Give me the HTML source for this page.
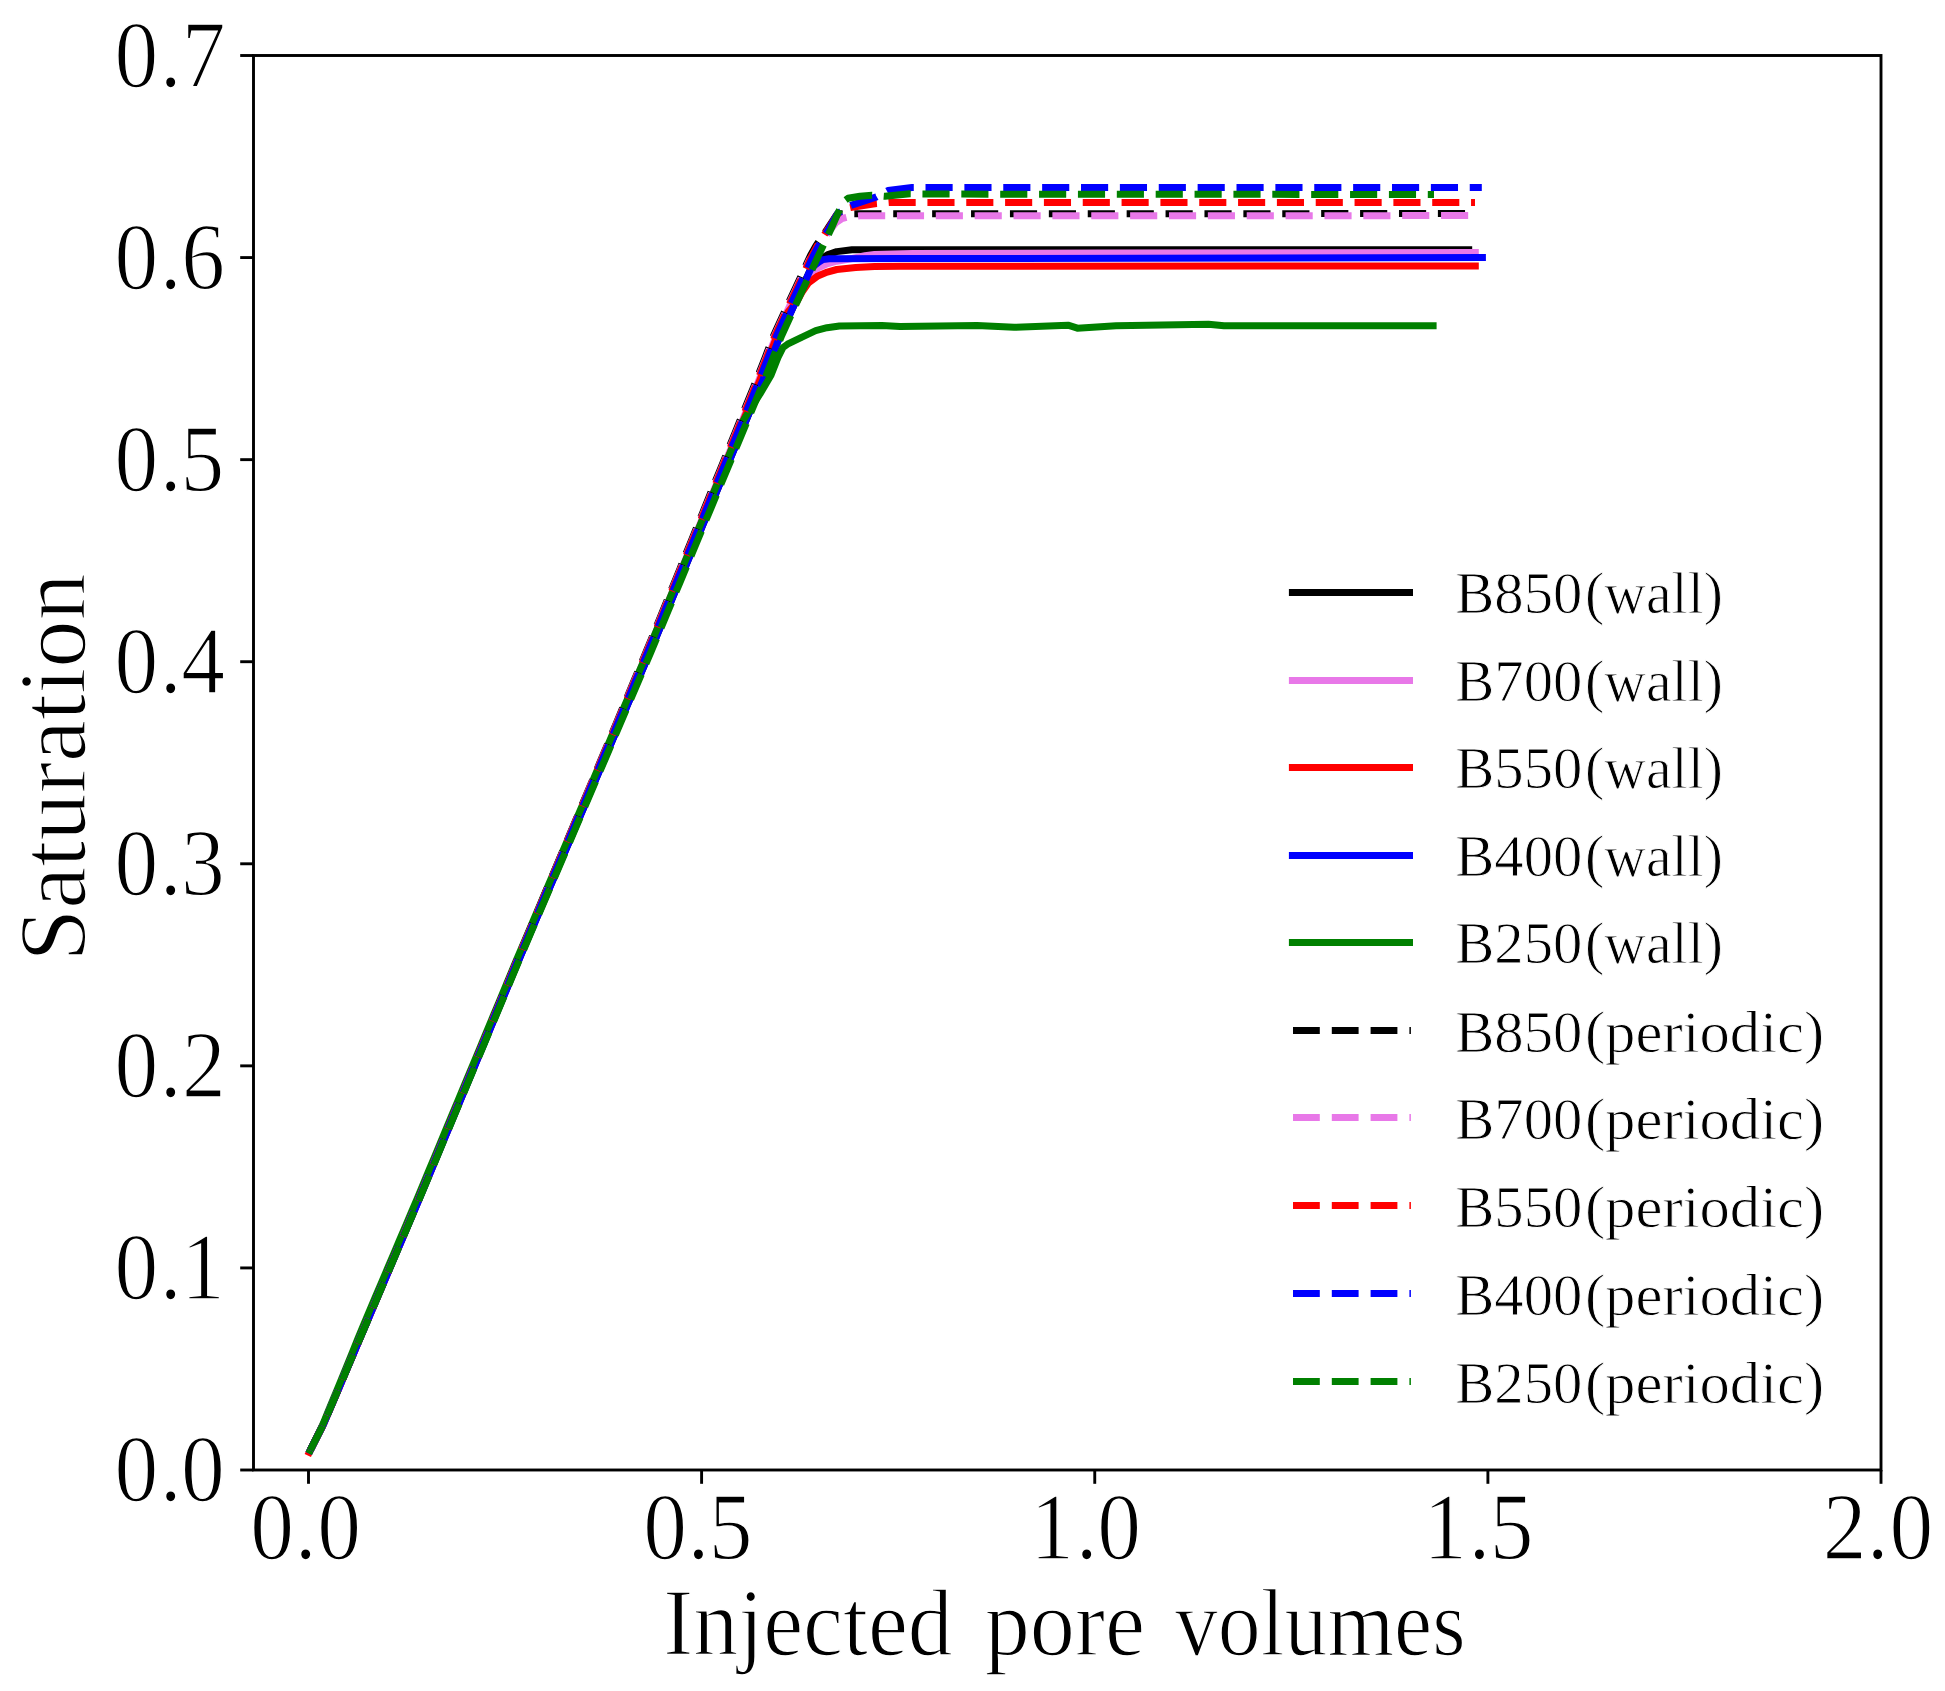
<!DOCTYPE html>
<html lang="en"><head><meta charset="utf-8"><title>Saturation vs injected pore volumes</title>
<style>html,body{margin:0;padding:0;background:#fff;}body{width:1945px;height:1691px;overflow:hidden;}svg{display:block;}</style>
</head><body>
<svg width="1945" height="1691" viewBox="0 0 1945 1691">
<rect width="1945" height="1691" fill="#fff"/>
<g fill="none" stroke-width="7.0" stroke-linejoin="round">
<path d="M310.3,1450.2 L317.4,1436.2 L323.4,1424.3 L330.3,1408.2 L336.3,1394.2 L338.1,1390.0 L342.3,1380.2 L348.2,1366.2 L354.2,1352.2 L360.1,1338.2 L366.1,1324.2 L372.0,1310.2 L378.0,1296.2 L383.9,1282.2 L389.9,1268.2 L395.8,1254.2 L401.8,1240.2 L407.7,1226.2 L413.7,1212.2 L419.5,1198.5 L425.4,1184.2 L431.3,1170.2 L437.1,1156.2 L442.9,1142.2 L448.8,1128.2 L454.6,1114.2 L460.4,1100.2 L466.3,1086.2 L472.1,1072.2 L477.9,1058.2 L483.8,1044.2 L489.6,1030.2 L495.4,1016.2 L501.3,1002.2 L507.1,988.2 L512.9,974.2 L518.8,960.2 L524.7,946.2 L530.7,932.2 L536.7,918.2 L542.6,904.2 L548.6,890.2 L554.6,876.2 L560.5,862.2 L566.5,848.2 L572.5,834.2 L578.4,820.2 L584.4,806.2 L590.3,792.2 L596.3,778.2 L602.3,764.2 L608.2,750.2 L614.2,736.2 L620.1,722.2 L626.1,708.2 L632.1,694.2 L638.0,680.2 L644.0,666.2 L649.9,652.2 L655.8,638.2 L661.6,624.2 L667.4,610.2 L673.2,596.2 L679.0,582.2 L684.8,568.2 L690.6,554.2 L696.5,540.2 L702.3,526.2 L708.1,512.2 L713.9,498.2 L719.7,484.2 L725.5,470.2 L731.3,456.2 L737.1,442.2 L742.9,428.2 L748.7,414.2 L754.5,400.2 L760.3,386.2 L762.9,380.0 L765.9,372.2 L771.4,358.2 L776.8,344.2 L780.0,336.0 L782.6,330.2 L789.0,316.2 L795.4,302.2 L798.5,295.5 L801.9,288.2 L811.2,268.0 L818.0,262.3 L821.6,258.4 L827.3,254.9 L836.8,251.6 L852.0,249.7 L1468.7,249.7" stroke="#000000" stroke-linecap="square"/>
<path d="M310.3,1450.2 L317.4,1436.2 L323.4,1424.3 L330.3,1408.2 L336.3,1394.2 L338.1,1390.0 L342.2,1380.2 L348.2,1366.2 L354.1,1352.2 L360.0,1338.2 L366.0,1324.2 L371.9,1310.2 L377.8,1296.2 L383.7,1282.2 L389.7,1268.2 L395.6,1254.2 L401.5,1240.2 L407.4,1226.2 L413.3,1212.2 L419.1,1198.5 L425.1,1184.2 L430.9,1170.2 L436.7,1156.2 L442.5,1142.2 L448.3,1128.2 L454.1,1114.2 L459.8,1100.2 L465.6,1086.2 L471.4,1072.2 L477.2,1058.2 L483.0,1044.2 L488.8,1030.2 L494.6,1016.2 L500.4,1002.2 L506.1,988.2 L511.9,974.2 L517.7,960.2 L523.6,946.2 L529.5,932.2 L535.4,918.2 L541.4,904.2 L547.3,890.2 L553.2,876.2 L559.1,862.2 L565.0,848.2 L570.9,834.2 L576.8,820.2 L582.7,806.2 L588.6,792.2 L594.5,778.2 L600.4,764.2 L606.3,750.2 L612.2,736.2 L618.1,722.2 L624.0,708.2 L629.9,694.2 L635.7,680.2 L641.6,666.2 L647.5,652.2 L653.3,638.2 L659.0,624.2 L664.8,610.2 L670.5,596.2 L676.2,582.2 L682.0,568.2 L687.7,554.2 L693.4,540.2 L699.1,526.2 L704.9,512.2 L710.6,498.2 L716.3,484.2 L722.0,470.2 L727.8,456.2 L733.5,442.2 L739.2,428.2 L744.9,414.2 L750.7,400.2 L756.4,386.2 L758.9,380.0 L761.9,372.2 L767.4,358.2 L772.8,344.2 L776.0,336.0 L778.6,330.2 L785.0,316.2 L791.4,302.2 L794.5,295.5 L796.1,292.0 L805.0,284.0 L811.0,276.0 L817.9,268.1 L827.0,263.8 L836.8,261.2 L851.0,258.7 L865.0,255.8 L874.6,254.4 L912.5,253.5 L1100.0,253.0 L1475.3,252.5" stroke="#E878E8" stroke-linecap="square"/>
<path d="M309.3,1452.3 L310.3,1450.2 L317.4,1436.2 L323.4,1424.3 L330.3,1408.2 L336.3,1394.2 L338.1,1390.0 L342.2,1380.2 L348.2,1366.2 L354.1,1352.2 L360.0,1338.2 L366.0,1324.2 L371.9,1310.2 L377.9,1296.2 L383.8,1282.2 L389.7,1268.2 L395.6,1254.2 L401.6,1240.2 L407.5,1226.2 L413.4,1212.2 L419.2,1198.5 L425.2,1184.2 L431.0,1170.2 L436.8,1156.2 L442.6,1142.2 L448.4,1128.2 L454.2,1114.2 L460.0,1100.2 L465.8,1086.2 L471.6,1072.2 L477.4,1058.2 L483.2,1044.2 L489.0,1030.2 L494.8,1016.2 L500.6,1002.2 L506.4,988.2 L512.2,974.2 L518.0,960.2 L523.9,946.2 L529.8,932.2 L535.8,918.2 L541.7,904.2 L547.6,890.2 L553.5,876.2 L559.4,862.2 L565.4,848.2 L571.3,834.2 L577.2,820.2 L583.1,806.2 L589.0,792.2 L594.9,778.2 L600.9,764.2 L606.8,750.2 L612.7,736.2 L618.6,722.2 L624.5,708.2 L630.4,694.2 L636.3,680.2 L642.2,666.2 L648.1,652.2 L653.9,638.2 L659.7,624.2 L665.4,610.2 L671.2,596.2 L676.9,582.2 L682.7,568.2 L688.4,554.2 L694.2,540.2 L699.9,526.2 L705.7,512.2 L711.4,498.2 L717.2,484.2 L722.9,470.2 L728.7,456.2 L734.4,442.2 L740.1,428.2 L745.9,414.2 L751.6,400.2 L757.4,386.2 L759.9,380.0 L762.9,372.2 L768.4,358.2 L773.8,344.2 L777.0,336.0 L779.6,330.2 L788.0,312.0 L797.5,300.5 L801.8,292.5 L808.4,283.0 L817.9,275.9 L827.3,272.1 L836.8,269.5 L855.7,267.4 L874.6,266.5 L900.0,266.2 L1475.3,266.0" stroke="#FF0000" stroke-linecap="square"/>
<path d="M310.3,1450.2 L317.4,1436.2 L323.4,1424.3 L330.3,1408.2 L336.3,1394.2 L338.1,1390.0 L342.3,1380.2 L348.2,1366.2 L354.2,1352.2 L360.1,1338.2 L366.1,1324.2 L372.0,1310.2 L378.0,1296.2 L383.9,1282.2 L389.9,1268.2 L395.8,1254.2 L401.8,1240.2 L407.7,1226.2 L413.7,1212.2 L419.5,1198.5 L425.4,1184.2 L431.3,1170.2 L437.1,1156.2 L442.9,1142.2 L448.8,1128.2 L454.6,1114.2 L460.4,1100.2 L466.3,1086.2 L472.1,1072.2 L477.9,1058.2 L483.8,1044.2 L489.6,1030.2 L495.4,1016.2 L501.3,1002.2 L507.1,988.2 L512.9,974.2 L518.8,960.2 L524.7,946.2 L530.7,932.2 L536.7,918.2 L542.6,904.2 L548.6,890.2 L554.6,876.2 L560.5,862.2 L566.5,848.2 L572.5,834.2 L578.4,820.2 L584.4,806.2 L590.3,792.2 L596.3,778.2 L602.3,764.2 L608.2,750.2 L614.2,736.2 L620.1,722.2 L626.1,708.2 L632.1,694.2 L638.0,680.2 L644.0,666.2 L649.9,652.2 L655.8,638.2 L661.6,624.2 L667.4,610.2 L673.2,596.2 L679.0,582.2 L684.8,568.2 L690.6,554.2 L696.5,540.2 L702.3,526.2 L708.1,512.2 L713.9,498.2 L719.7,484.2 L725.5,470.2 L731.3,456.2 L737.1,442.2 L742.9,428.2 L748.7,414.2 L754.5,400.2 L760.3,386.2 L762.9,380.0 L765.9,372.2 L771.4,358.2 L776.8,344.2 L780.0,336.0 L782.6,330.2 L789.0,316.2 L795.4,302.2 L798.5,295.5 L801.9,288.2 L811.2,268.0 L819.0,262.0 L823.0,259.6 L829.0,258.8 L900.0,258.6 L1482.4,257.5" stroke="#0000FF" stroke-linecap="square"/>
<path d="M310.3,1450.2 L317.1,1436.2 L322.9,1424.3 L329.5,1408.2 L335.3,1394.2 L337.0,1390.0 L341.0,1380.2 L346.7,1366.2 L352.4,1352.2 L358.0,1338.2 L363.9,1324.2 L369.8,1310.2 L375.7,1296.2 L381.7,1282.2 L387.6,1268.2 L393.6,1254.2 L399.5,1240.2 L405.5,1226.2 L411.4,1212.2 L417.2,1198.5 L423.2,1184.2 L429.0,1170.2 L434.9,1156.2 L440.7,1142.2 L446.5,1128.2 L452.3,1114.2 L458.2,1100.2 L464.0,1086.2 L469.8,1072.2 L475.7,1058.2 L481.5,1044.2 L487.3,1030.2 L493.1,1016.2 L499.0,1002.2 L504.8,988.2 L510.6,974.2 L516.4,960.2 L522.4,946.2 L528.4,932.2 L534.3,918.2 L540.3,904.2 L546.2,890.2 L552.2,876.2 L558.1,862.2 L564.1,848.2 L570.1,834.2 L576.0,820.2 L582.0,806.2 L587.9,792.2 L593.9,778.2 L599.8,764.2 L605.8,750.2 L611.7,736.2 L617.7,722.2 L623.6,708.2 L629.6,694.2 L635.5,680.2 L641.5,666.2 L647.4,652.2 L653.3,638.2 L659.1,624.2 L664.9,610.2 L670.7,596.2 L676.5,582.2 L682.3,568.2 L688.1,554.2 L693.9,540.2 L699.7,526.2 L705.5,512.2 L711.3,498.2 L717.1,484.2 L722.9,470.2 L728.7,456.2 L734.5,442.2 L740.2,428.2 L743.6,420.0 L760.0,394.0 L771.0,375.2 L778.0,357.5 L783.0,347.5 L787.5,344.2 L801.5,337.3 L815.7,330.7 L827.0,327.7 L839.4,326.0 L882.0,325.6 L900.0,326.4 L977.0,325.5 L1014.0,327.3 L1068.0,325.2 L1077.4,328.2 L1116.0,325.8 L1208.5,324.3 L1224.0,325.8 L1433.1,325.8" stroke="#008000" stroke-linecap="square"/>
<path d="M310.3,1450.2 L317.4,1436.2 L323.4,1424.3 L330.3,1408.2 L336.2,1394.2 L338.0,1390.0 L342.2,1380.2 L348.1,1366.2 L354.0,1352.2 L360.0,1338.2 L365.9,1324.2 L371.8,1310.2 L377.7,1296.2 L383.6,1282.2 L389.5,1268.2 L395.4,1254.2 L401.4,1240.2 L407.3,1226.2 L413.1,1212.2 L418.9,1198.5 L424.8,1184.2 L430.6,1170.2 L436.4,1156.2 L442.2,1142.2 L447.9,1128.2 L453.7,1114.2 L459.5,1100.2 L465.2,1086.2 L471.0,1072.2 L476.8,1058.2 L482.5,1044.2 L488.3,1030.2 L494.0,1016.2 L499.8,1002.2 L505.5,988.2 L511.3,974.2 L517.0,960.2 L522.9,946.2 L528.8,932.2 L534.7,918.2 L540.6,904.2 L546.4,890.2 L552.3,876.2 L558.2,862.2 L564.0,848.2 L569.9,834.2 L575.8,820.2 L581.6,806.2 L587.5,792.2 L593.4,778.2 L599.2,764.2 L605.1,750.2 L610.9,736.2 L616.8,722.2 L622.6,708.2 L628.5,694.2 L634.3,680.2 L640.2,666.2 L646.0,652.2 L651.7,638.2 L657.4,624.2 L663.1,610.2 L668.8,596.2 L674.5,582.2 L680.2,568.2 L685.8,554.2 L691.5,540.2 L697.2,526.2 L702.9,512.2 L708.5,498.2 L714.2,484.2 L719.9,470.2 L725.6,456.2 L731.2,442.2 L736.9,428.2 L742.6,414.2 L748.2,400.2 L753.9,386.2 L756.4,380.0 L759.4,372.2 L764.9,358.2 L770.3,344.2 L773.5,336.0 L776.1,330.2 L782.5,316.2 L788.9,302.2 L792.0,295.5 L795.4,288.2 L801.9,274.2 L808.3,260.2 L810.5,255.5 L815.7,246.2 L825.2,232.2 L827.4,229.0 L836.9,214.5 L842.0,213.7 L1470.0,213.6" stroke="#000000" stroke-dasharray="27.163 11.741"/>
<path d="M310.3,1450.2 L317.4,1436.2 L323.4,1424.3 L330.3,1408.2 L336.3,1394.2 L338.0,1390.0 L342.2,1380.2 L348.1,1366.2 L354.1,1352.2 L360.0,1338.2 L365.9,1324.2 L371.8,1310.2 L377.8,1296.2 L383.7,1282.2 L389.6,1268.2 L395.5,1254.2 L401.4,1240.2 L407.3,1226.2 L413.2,1212.2 L419.0,1198.5 L424.9,1184.2 L430.7,1170.2 L436.5,1156.2 L442.3,1142.2 L448.1,1128.2 L453.8,1114.2 L459.6,1100.2 L465.4,1086.2 L471.2,1072.2 L477.0,1058.2 L482.7,1044.2 L488.5,1030.2 L494.3,1016.2 L500.0,1002.2 L505.8,988.2 L511.6,974.2 L517.3,960.2 L523.2,946.2 L529.1,932.2 L535.0,918.2 L540.9,904.2 L546.8,890.2 L552.7,876.2 L558.5,862.2 L564.4,848.2 L570.3,834.2 L576.2,820.2 L582.1,806.2 L587.9,792.2 L593.8,778.2 L599.7,764.2 L605.6,750.2 L611.4,736.2 L617.3,722.2 L623.2,708.2 L629.0,694.2 L634.9,680.2 L640.7,666.2 L646.6,652.2 L652.3,638.2 L658.1,624.2 L663.8,610.2 L669.5,596.2 L675.2,582.2 L680.9,568.2 L686.6,554.2 L692.3,540.2 L698.0,526.2 L703.7,512.2 L709.4,498.2 L715.1,484.2 L720.8,470.2 L726.4,456.2 L732.1,442.2 L737.8,428.2 L743.5,414.2 L749.2,400.2 L754.9,386.2 L757.4,380.0 L760.4,372.2 L765.9,358.2 L771.3,344.2 L774.5,336.0 L777.1,330.2 L783.5,316.2 L789.9,302.2 L793.0,295.5 L796.4,288.2 L802.9,274.2 L809.3,260.2 L812.4,255.5 L820.5,243.5 L830.0,230.0 L836.0,222.5 L842.0,218.5 L850.0,216.5 L860.0,215.8 L1476.0,215.6" stroke="#E878E8" stroke-dasharray="27.136 11.730"/>
<path d="M310.3,1450.2 L317.4,1436.2 L323.4,1424.3 L330.3,1408.2 L336.3,1394.2 L338.1,1390.0 L342.2,1380.2 L348.1,1366.2 L354.1,1352.2 L360.0,1338.2 L365.9,1324.2 L371.9,1310.2 L377.8,1296.2 L383.7,1282.2 L389.6,1268.2 L395.5,1254.2 L401.4,1240.2 L407.4,1226.2 L413.3,1212.2 L419.0,1198.5 L425.0,1184.2 L430.8,1170.2 L436.6,1156.2 L442.3,1142.2 L448.1,1128.2 L453.9,1114.2 L459.7,1100.2 L465.5,1086.2 L471.3,1072.2 L477.0,1058.2 L482.8,1044.2 L488.6,1030.2 L494.4,1016.2 L500.1,1002.2 L505.9,988.2 L511.7,974.2 L517.4,960.2 L523.3,946.2 L529.2,932.2 L535.1,918.2 L541.0,904.2 L546.9,890.2 L552.8,876.2 L558.7,862.2 L564.6,848.2 L570.5,834.2 L576.4,820.2 L582.3,806.2 L588.2,792.2 L594.0,778.2 L599.9,764.2 L605.8,750.2 L611.7,736.2 L617.6,722.2 L623.4,708.2 L629.3,694.2 L635.2,680.2 L641.0,666.2 L646.9,652.2 L652.7,638.2 L658.4,624.2 L664.1,610.2 L669.8,596.2 L675.5,582.2 L681.2,568.2 L686.9,554.2 L692.7,540.2 L698.4,526.2 L704.1,512.2 L709.8,498.2 L715.5,484.2 L721.2,470.2 L726.9,456.2 L732.6,442.2 L738.3,428.2 L744.0,414.2 L749.7,400.2 L755.4,386.2 L757.9,380.0 L760.9,372.2 L766.4,358.2 L771.8,344.2 L775.0,336.0 L777.6,330.2 L784.0,316.2 L790.4,302.2 L793.5,295.5 L796.9,288.2 L803.4,274.2 L809.8,260.2 L812.0,255.5 L817.0,246.2 L826.0,232.2 L828.1,229.0 L837.0,214.5 L845.0,208.8 L852.0,207.3 L876.5,203.5 L890.0,202.5 L1475.0,202.4" stroke="#FF0000" stroke-dasharray="27.111 11.719"/>
<path d="M310.3,1450.2 L317.4,1436.2 L323.4,1424.3 L330.3,1408.2 L336.3,1394.2 L338.1,1390.0 L342.2,1380.2 L348.2,1366.2 L354.1,1352.2 L360.0,1338.2 L366.0,1324.2 L371.9,1310.2 L377.8,1296.2 L383.8,1282.2 L389.7,1268.2 L395.6,1254.2 L401.5,1240.2 L407.5,1226.2 L413.4,1212.2 L419.2,1198.5 L425.1,1184.2 L430.9,1170.2 L436.7,1156.2 L442.5,1142.2 L448.3,1128.2 L454.1,1114.2 L459.9,1100.2 L465.7,1086.2 L471.5,1072.2 L477.3,1058.2 L483.1,1044.2 L488.9,1030.2 L494.7,1016.2 L500.5,1002.2 L506.3,988.2 L512.1,974.2 L517.8,960.2 L523.8,946.2 L529.7,932.2 L535.6,918.2 L541.5,904.2 L547.4,890.2 L553.3,876.2 L559.3,862.2 L565.2,848.2 L571.1,834.2 L577.0,820.2 L582.9,806.2 L588.8,792.2 L594.7,778.2 L600.6,764.2 L606.5,750.2 L612.4,736.2 L618.3,722.2 L624.2,708.2 L630.1,694.2 L636.0,680.2 L641.9,666.2 L647.8,652.2 L653.6,638.2 L659.3,624.2 L665.1,610.2 L670.8,596.2 L676.6,582.2 L682.3,568.2 L688.1,554.2 L693.8,540.2 L699.5,526.2 L705.3,512.2 L711.0,498.2 L716.7,484.2 L722.5,470.2 L728.2,456.2 L733.9,442.2 L739.7,428.2 L745.4,414.2 L751.1,400.2 L756.9,386.2 L759.4,380.0 L762.4,372.2 L767.9,358.2 L773.3,344.2 L776.5,336.0 L779.1,330.2 L785.5,316.2 L791.9,302.2 L795.0,295.5 L798.4,288.2 L804.9,274.2 L811.3,260.2 L813.5,255.5 L818.4,246.2 L826.8,232.2 L828.8,229.0 L837.6,213.5 L851.0,205.4 L876.5,196.9 L888.0,190.5 L912.0,187.5 L1481.8,187.5" stroke="#0000FF" stroke-dasharray="27.142 11.732"/>
<path d="M310.3,1450.2 L317.4,1436.2 L323.4,1424.3 L330.3,1408.2 L336.3,1394.2 L338.1,1390.0 L342.3,1380.2 L348.2,1366.2 L354.2,1352.2 L360.1,1338.2 L366.1,1324.2 L372.1,1310.2 L378.0,1296.2 L384.0,1282.2 L389.9,1268.2 L395.9,1254.2 L401.9,1240.2 L407.8,1226.2 L413.8,1212.2 L419.6,1198.5 L425.6,1184.2 L431.4,1170.2 L437.3,1156.2 L443.1,1142.2 L449.0,1128.2 L454.8,1114.2 L460.7,1100.2 L466.5,1086.2 L472.4,1072.2 L478.2,1058.2 L484.1,1044.2 L489.9,1030.2 L495.8,1016.2 L501.6,1002.2 L507.5,988.2 L513.3,974.2 L519.2,960.2 L525.2,946.2 L531.1,932.2 L537.1,918.2 L543.1,904.2 L549.1,890.2 L555.1,876.2 L561.1,862.2 L567.1,848.2 L573.0,834.2 L579.0,820.2 L585.0,806.2 L591.0,792.2 L597.0,778.2 L603.0,764.2 L609.0,750.2 L614.9,736.2 L620.9,722.2 L626.9,708.2 L632.9,694.2 L638.9,680.2 L644.9,666.2 L650.9,652.2 L656.7,638.2 L662.6,624.2 L668.4,610.2 L674.2,596.2 L680.1,582.2 L685.9,568.2 L691.8,554.2 L697.6,540.2 L703.4,526.2 L709.3,512.2 L715.1,498.2 L720.9,484.2 L726.8,470.2 L732.6,456.2 L738.5,442.2 L744.3,428.2 L750.1,414.2 L756.0,400.2 L761.8,386.2 L764.4,380.0 L767.4,372.2 L772.9,358.2 L778.3,344.2 L781.5,336.0 L784.1,330.2 L790.5,316.2 L796.9,302.2 L800.0,295.5 L803.4,288.2 L809.9,274.2 L816.3,260.2 L818.5,255.5 L822.9,246.2 L829.5,232.2 L831.0,229.0 L838.7,211.5 L843.5,201.5 L848.0,198.3 L860.0,196.2 L872.0,195.3 L885.0,196.3 L910.0,193.8 L950.0,194.1 L1434.0,194.5" stroke="#008000" stroke-dasharray="27.141 11.732"/>
</g>
<g stroke="#000" stroke-width="2.9" fill="none">
<rect x="253.5" y="55.5" width="1627.5" height="1414.5"/>
<line x1="308.5" y1="1470.0" x2="308.5" y2="1483.8"/>
<line x1="701.6" y1="1470.0" x2="701.6" y2="1483.8"/>
<line x1="1094.75" y1="1470.0" x2="1094.75" y2="1483.8"/>
<line x1="1487.9" y1="1470.0" x2="1487.9" y2="1483.8"/>
<line x1="1881.0" y1="1470.0" x2="1881.0" y2="1483.8"/>
<line x1="253.5" y1="1470.00" x2="240.2" y2="1470.00"/>
<line x1="253.5" y1="1267.93" x2="240.2" y2="1267.93"/>
<line x1="253.5" y1="1065.86" x2="240.2" y2="1065.86"/>
<line x1="253.5" y1="863.79" x2="240.2" y2="863.79"/>
<line x1="253.5" y1="661.72" x2="240.2" y2="661.72"/>
<line x1="253.5" y1="459.65" x2="240.2" y2="459.65"/>
<line x1="253.5" y1="257.58" x2="240.2" y2="257.58"/>
<line x1="253.5" y1="55.51" x2="240.2" y2="55.51"/>
</g>
<g font-family="'Liberation Serif', serif" font-size="94.2" fill="#000" stroke="#fff" stroke-width="1.5">
<text transform="translate(0,1558.5) scale(0.929,1)" x="269.45 317.29 341.47" y="0">0.0</text>
<text transform="translate(0,1558.5) scale(0.929,1)" x="692.49 740.05 762.91" y="0">0.5</text>
<text transform="translate(0,1558.5) scale(0.929,1)" x="1109.05 1157.87 1181.24" y="0">1.0</text>
<text transform="translate(0,1558.5) scale(0.929,1)" x="1532.08 1580.80 1603.65" y="0">1.5</text>
<text transform="translate(0,1558.5) scale(0.929,1)" x="1961.96 2009.32 2033.93" y="0">2.0</text>
<text transform="translate(0,1501.3) scale(0.929,1)" x="123.17 171.97 194.96" y="0">0.0</text>
<text transform="translate(0,1299.2) scale(0.929,1)" x="123.17 171.97 194.73" y="0">0.1</text>
<text transform="translate(0,1097.2) scale(0.929,1)" x="123.17 171.97 195.82" y="0">0.2</text>
<text transform="translate(0,895.1) scale(0.929,1)" x="123.17 171.97 194.87" y="0">0.3</text>
<text transform="translate(0,693.0) scale(0.929,1)" x="123.17 171.97 195.00" y="0">0.4</text>
<text transform="translate(0,491.0) scale(0.929,1)" x="123.17 171.97 194.39" y="0">0.5</text>
<text transform="translate(0,288.9) scale(0.929,1)" x="123.17 171.97 195.10" y="0">0.6</text>
<text transform="translate(0,86.8) scale(0.929,1)" x="123.17 171.97 195.75" y="0">0.7</text>
</g>
<text y="1655.0" font-family="'Liberation Serif', serif" font-size="95.5" fill="#000" stroke="#fff" stroke-width="1.5"><tspan x="663.3" textLength="289.5" lengthAdjust="spacingAndGlyphs">Injected</tspan> <tspan x="984.7" textLength="160.3" lengthAdjust="spacingAndGlyphs">pore</tspan> <tspan x="1175.0" textLength="290.5" lengthAdjust="spacingAndGlyphs">volumes</tspan></text>
<text transform="translate(85.2,955.1) rotate(-90)" x="-6.3" y="0" font-family="'Liberation Serif', serif" font-size="95.5" fill="#000" stroke="#fff" stroke-width="1.5" textLength="388.2" lengthAdjust="spacingAndGlyphs">Saturation</text>
<line x1="1292.4" y1="592.5" x2="1409.5" y2="592.5" stroke="#000000" stroke-width="7.0" stroke-linecap="square"/>
<line x1="1292.4" y1="680.5" x2="1409.5" y2="680.5" stroke="#E878E8" stroke-width="7.0" stroke-linecap="square"/>
<line x1="1292.4" y1="767.5" x2="1409.5" y2="767.5" stroke="#FF0000" stroke-width="7.0" stroke-linecap="square"/>
<line x1="1292.4" y1="855.5" x2="1409.5" y2="855.5" stroke="#0000FF" stroke-width="7.0" stroke-linecap="square"/>
<line x1="1292.4" y1="942.5" x2="1409.5" y2="942.5" stroke="#008000" stroke-width="7.0" stroke-linecap="square"/>
<line x1="1293" y1="1030.5" x2="1410.9" y2="1030.5" stroke="#000000" stroke-width="7.0" stroke-dasharray="26.8 12.0"/>
<line x1="1293" y1="1117.5" x2="1410.9" y2="1117.5" stroke="#E878E8" stroke-width="7.0" stroke-dasharray="26.8 12.0"/>
<line x1="1293" y1="1205.5" x2="1410.9" y2="1205.5" stroke="#FF0000" stroke-width="7.0" stroke-dasharray="26.8 12.0"/>
<line x1="1293" y1="1293.5" x2="1410.9" y2="1293.5" stroke="#0000FF" stroke-width="7.0" stroke-dasharray="26.8 12.0"/>
<line x1="1293" y1="1381.5" x2="1410.9" y2="1381.5" stroke="#008000" stroke-width="7.0" stroke-dasharray="26.8 12.0"/>
<g font-family="'Liberation Serif', serif" font-size="60.2" fill="#000" stroke="#fff" stroke-width="0.9">
<text y="613.0"><tspan x="1455.2" textLength="127.1" lengthAdjust="spacingAndGlyphs">B850</tspan><tspan x="1585.1" textLength="137.8" lengthAdjust="spacingAndGlyphs">(wall)</tspan></text>
<text y="701.0"><tspan x="1455.2" textLength="127.1" lengthAdjust="spacingAndGlyphs">B700</tspan><tspan x="1585.1" textLength="137.8" lengthAdjust="spacingAndGlyphs">(wall)</tspan></text>
<text y="788.0"><tspan x="1455.2" textLength="127.1" lengthAdjust="spacingAndGlyphs">B550</tspan><tspan x="1585.1" textLength="137.8" lengthAdjust="spacingAndGlyphs">(wall)</tspan></text>
<text y="876.0"><tspan x="1455.2" textLength="127.1" lengthAdjust="spacingAndGlyphs">B400</tspan><tspan x="1585.1" textLength="137.8" lengthAdjust="spacingAndGlyphs">(wall)</tspan></text>
<text y="963.0"><tspan x="1455.2" textLength="127.1" lengthAdjust="spacingAndGlyphs">B250</tspan><tspan x="1585.1" textLength="137.8" lengthAdjust="spacingAndGlyphs">(wall)</tspan></text>
<text y="1052.0"><tspan x="1455.2" textLength="127.1" lengthAdjust="spacingAndGlyphs">B850</tspan><tspan x="1584.9" textLength="239.4" lengthAdjust="spacingAndGlyphs">(periodic)</tspan></text>
<text y="1139.0"><tspan x="1455.2" textLength="127.1" lengthAdjust="spacingAndGlyphs">B700</tspan><tspan x="1584.9" textLength="239.4" lengthAdjust="spacingAndGlyphs">(periodic)</tspan></text>
<text y="1227.0"><tspan x="1455.2" textLength="127.1" lengthAdjust="spacingAndGlyphs">B550</tspan><tspan x="1584.9" textLength="239.4" lengthAdjust="spacingAndGlyphs">(periodic)</tspan></text>
<text y="1315.0"><tspan x="1455.2" textLength="127.1" lengthAdjust="spacingAndGlyphs">B400</tspan><tspan x="1584.9" textLength="239.4" lengthAdjust="spacingAndGlyphs">(periodic)</tspan></text>
<text y="1403.0"><tspan x="1455.2" textLength="127.1" lengthAdjust="spacingAndGlyphs">B250</tspan><tspan x="1584.9" textLength="239.4" lengthAdjust="spacingAndGlyphs">(periodic)</tspan></text>
</g>
</svg>
</body></html>
